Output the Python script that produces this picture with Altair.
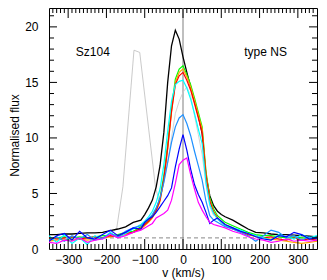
import altair as alt
import pandas as pd

FONT = "Liberation Sans"

# velocity grid (km/s)
V = [-350, -330, -310, -290, -270, -250, -230, -210, -190, -170, -150, -130, -110,
     -100, -90, -80, -70, -60, -50, -40, -30, -20, -10, 0, 10, 20, 30, 40, 50, 60, 70, 80, 90, 100,
     110, 130, 150, 170, 190, 210, 230, 250, 270, 290, 310, 330, 350]

BLACK = [1.3, 1.3, 1.35, 1.35, 1.4, 1.45, 1.45, 1.5, 1.65, 1.8, 2.0, 2.4, 2.6,
         3.1, 3.7, 4.4, 5.6, 7.5, 10.5, 15.0, 18.3, 19.7, 18.9, 17.3, 15.9, 14.6, 13.3, 12.0, 10.4, 6.6, 4.8, 3.9, 3.4, 3.1,
         2.9, 2.6, 2.2, 1.8, 1.5, 1.45, 1.35, 1.3, 1.3, 1.25, 1.2, 1.15, 1.1]
GREEN = [0.9, 1.0, 1.1, 1.0, 1.1, 1.0, 1.1, 1.2, 1.2, 1.3, 1.5, 1.6, 2.0,
         2.3, 2.6, 3.0, 3.6, 4.6, 6.6, 9.4, 12.7, 15.3, 16.2, 16.5, 15.7, 14.8, 13.6, 12.3, 11.0, 7.0, 4.6, 3.6, 3.0, 2.7,
         2.4, 2.1, 1.8, 1.5, 1.3, 1.2, 1.2, 1.1, 1.0, 1.1, 1.0, 1.0, 0.9]
ORANGE = [0.7, 0.8, 0.9, 0.8, 0.9, 0.8, 0.9, 1.0, 1.1, 1.2, 1.3, 1.5, 1.8,
          2.1, 2.4, 2.8, 3.4, 4.3, 6.2, 9.0, 12.3, 15.0, 15.9, 16.2, 15.5, 14.6, 13.4, 12.1, 10.8, 6.8, 4.4, 3.4, 2.8, 2.5,
          2.2, 1.9, 1.6, 1.3, 1.1, 1.0, 0.9, 0.8, 0.7, 0.6, 0.5, 0.6, 0.7]
RED = [1.0, 0.9, 1.0, 1.1, 0.9, 1.0, 1.1, 1.0, 1.2, 1.1, 1.4, 1.5, 1.9,
       2.2, 2.5, 2.9, 3.5, 4.4, 6.3, 9.1, 12.4, 14.8, 15.6, 15.9, 15.2, 14.3, 13.1, 11.8, 10.5, 6.6, 4.3, 3.3, 2.8, 2.4,
       2.1, 1.8, 1.6, 1.3, 1.2, 1.0, 1.1, 0.9, 0.8, 1.0, 0.8, 0.9, 0.8]
CYAN = [1.2, 0.6, 1.3, 0.5, 1.0, 0.4, 1.2, 0.9, 1.5, 1.0, 1.4, 1.8, 2.2,
        2.5, 2.9, 3.4, 4.2, 5.4, 7.6, 10.6, 13.3, 14.8, 15.1, 15.2, 14.5, 13.5, 12.2, 10.8, 9.5, 6.0, 4.0, 3.2, 2.7, 2.4,
        2.1, 1.9, 1.7, 1.4, 1.2, 1.0, 0.8, 1.3, 1.1, 0.9, 1.3, 1.0, 1.2]
DODGER = [0.8, 1.1, 0.7, 1.2, 0.9, 1.3, 0.8, 1.0, 1.4, 1.1, 1.6, 1.9, 2.1,
          2.4, 2.7, 3.1, 3.7, 4.6, 6.0, 7.8, 9.6, 11.0, 11.8, 12.1, 11.3, 10.2, 8.8, 7.5, 6.2, 4.3, 3.0, 2.6, 2.4, 2.2,
          2.0, 1.8, 1.5, 1.2, 0.7, 1.2, 1.7, 1.5, 1.0, 1.2, 0.8, 1.1, 0.9]
BLUE = [0.7, 1.2, 1.4, 0.8, 1.6, 1.0, 0.9, 1.3, 1.7, 1.2, 1.5, 1.9, 1.8,
        2.4, 2.7, 2.9, 3.3, 3.8, 4.3, 4.8, 5.5, 7.4, 9.0, 10.3, 8.9, 7.2, 5.8, 4.9, 4.2, 3.3, 2.3, 2.6, 2.8, 2.5,
        2.2, 1.9, 1.6, 1.4, 1.1, 0.9, 0.8, 1.2, 1.1, 1.5, 1.3, 0.9, 1.0]
MAGENTA = [0.6, 0.5, 0.8, 0.7, 1.0, 0.6, 0.8, 0.9, 1.3, 1.0, 1.2, 1.5, 1.7,
           1.9, 2.1, 2.3, 2.8, 3.0, 3.2, 3.5, 4.4, 5.9, 7.6, 8.0, 8.2, 6.7, 5.4, 4.2, 3.5, 2.9, 2.4, 2.2, 2.1, 2.0,
           1.9, 1.6, 1.4, 1.1, 0.9, 0.8, 0.6, 0.7, 0.9, 0.7, 0.8, 0.7, 0.8]

# light grey profile inside the main peak
LG_V = [-60, -50, -40, -30, -20, -10, 0, 10, 20, 30, 40, 50, 60, 70, 80]
LG_F = [4.5, 6.0, 7.8, 10.0, 12.2, 13.3, 14.1, 14.6, 13.8, 12.0, 10.3, 8.5, 5.8, 3.8, 3.0]

# shifted grey profile
GR_V = [-190, -173, -157, -128, -113, -72, -60]
GR_F = [1.2, 1.9, 5.6, 17.9, 17.7, 5.6, 4.0]

X_TICKS = [-300, -200, -100, 0, 100, 200, 300]
Y_TICKS = [0, 5, 10, 15, 20]

W, H = 268, 241
xs = alt.Scale(domain=[-350, 350], nice=False, zero=False)
ys = alt.Scale(domain=[0, 21.7], nice=False, zero=False)

xaxis = alt.Axis(values=X_TICKS, title="v (km/s)", ticks=False, tickSize=0, domain=False, grid=False,
                 labelPadding=5, titlePadding=2, labelFontSize=12, titleFontSize=12,
                 labelFont=FONT, titleFont=FONT, titleFontWeight="normal",
                 labelColor="black", titleColor="black", labelFlush=False)
yaxis = alt.Axis(values=Y_TICKS, title="Normalised flux", ticks=False, tickSize=0, domain=False, grid=False,
                 labelPadding=11, titlePadding=3, labelFontSize=12, titleFontSize=12,
                 labelFont=FONT, titleFont=FONT, titleFontWeight="normal",
                 labelColor="black", titleColor="black", labelFlush=False, titleY=127)

X = alt.X("v:Q", scale=xs, axis=xaxis)
Y = alt.Y("f:Q", scale=ys, axis=yaxis)


def line(vs, fs, color, width):
    df = pd.DataFrame({"v": vs, "f": fs})
    return alt.Chart(df).mark_line(color=color, strokeWidth=width, clip=True).encode(
        x=X, y=Y, order="v:Q")


layers = []
# reference lines
layers.append(alt.Chart(pd.DataFrame({"v": [0]})).mark_rule(color="#aaaaaa", strokeWidth=1.5).encode(
    x=X))
layers.append(alt.Chart(pd.DataFrame({"f": [1.0]})).mark_rule(color="#888888", strokeWidth=1,
                                                            strokeDash=[4, 3]).encode(y=Y))
layers.append(line(GR_V, GR_F, "#bdbdbd", 0.8))
layers.append(line(V, BLACK, "#000000", 1.3))
layers.append(line(LG_V, LG_F, "#c8c8c8", 0.8))
layers.append(line(V, GREEN, "#00ff00", 1.2))
layers.append(line(V, ORANGE, "#ffa500", 1.2))
layers.append(line(V, RED, "#ff0000", 1.2))
layers.append(line(V, CYAN, "#00ffff", 1.2))
layers.append(line(V, DODGER, "#1e90ff", 1.2))
layers.append(line(V, BLUE, "#0000ff", 1.2))
layers.append(line(V, MAGENTA, "#ff00ff", 1.2))

# inside tick marks
x_major = pd.DataFrame({"v": [-300, -200, -100, 0, 100, 200, 300]})
x_minor = pd.DataFrame({"v": [t for t in range(-340, 350, 10) if t % 100 != 0]})
y_major = pd.DataFrame({"f": [5, 10, 15, 20]})
y_minor = pd.DataFrame({"f": [t for t in range(1, 22) if t % 5 != 0]})

for df, ln in ((x_major, 10), (x_minor, 5)):
    layers.append(alt.Chart(df).mark_rule(color="black", strokeWidth=1).encode(
        x=X, y=alt.value(H), y2=alt.value(H - ln)))
    layers.append(alt.Chart(df).mark_rule(color="black", strokeWidth=1).encode(
        x=X, y=alt.value(0), y2=alt.value(ln)))
for df, ln in ((y_major, 8), (y_minor, 5)):
    layers.append(alt.Chart(df).mark_rule(color="black", strokeWidth=1).encode(
        y=Y, x=alt.value(0), x2=alt.value(ln)))
    layers.append(alt.Chart(df).mark_rule(color="black", strokeWidth=1).encode(
        y=Y, x=alt.value(W), x2=alt.value(W - ln)))

# annotations
labels = pd.DataFrame({"v": [-280, 160], "f": [17.75, 17.75], "t": ["Sz104", "type NS"]})
layers.append(alt.Chart(labels).mark_text(align="left", baseline="middle", font=FONT, fontSize=12,
                                          color="black").encode(x=X, y=Y, text="t:N"))

chart = alt.layer(*layers).properties(
    width=W, height=H,
    autosize=alt.AutoSizeParams(type="none"),
    padding={"left": 41, "top": 0, "right": 2, "bottom": 31},
).configure_view(stroke="black", strokeWidth=1)

chart.save("out.html", embed_options={"renderer": "svg", "actions": False})
